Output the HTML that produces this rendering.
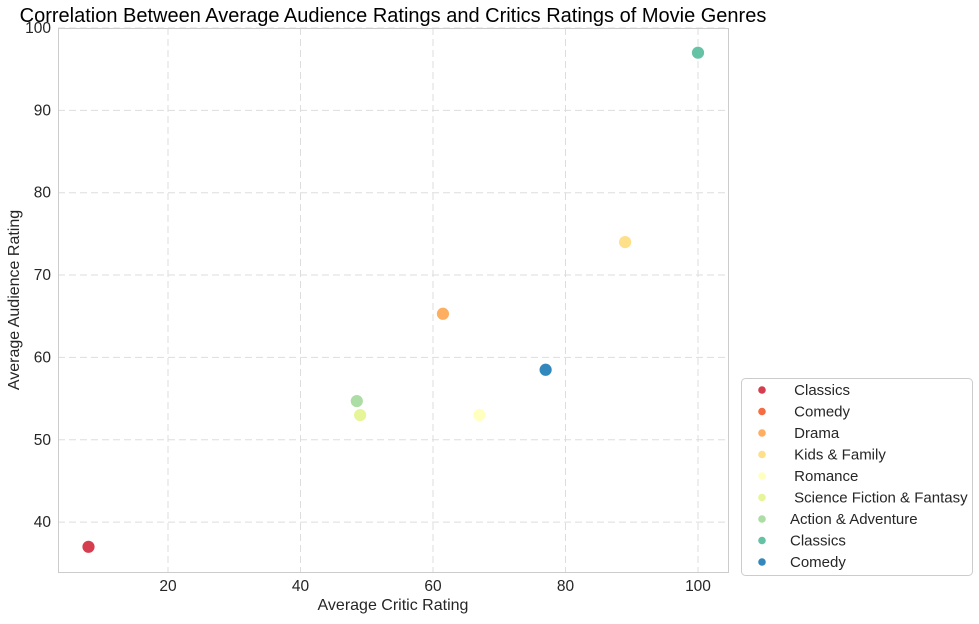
<!DOCTYPE html>
<html><head><meta charset="utf-8"><style>
body{margin:0;background:#fff;font-family:"Liberation Sans",sans-serif;}
svg text{font-family:"Liberation Sans",sans-serif;fill:#262626;}
</style></head><body>
<svg id="chart" width="979" height="619">
<text x="393" y="22" text-anchor="middle" font-size="20" style="fill:#000">Correlation Between Average Audience Ratings and Critics Ratings of Movie Genres</text>
<g id="grid"></g>
<rect x="58.5" y="28.5" width="670" height="544" fill="none" stroke="#ccc"/>
<g id="ticks"></g>
<g id="points"></g>
<text x="393" y="610" text-anchor="middle" font-size="16">Average Critic Rating</text>
<text transform="translate(19,300) rotate(-90)" text-anchor="middle" font-size="16">Average Audience Rating</text>
<g id="legend"></g>
</svg>
<script>
const labels=["\u00a0Classics","\u00a0Comedy","\u00a0Drama","\u00a0Kids & Family","\u00a0Romance","\u00a0Science Fiction & Fantasy","Action & Adventure","Classics","Comedy"];
const critic=[8,8,61.5,89,67,49,48.5,100,77];
const audience=[37,37,65.3,74,53,53,54.7,97,58.5];
const colors=["#d53e4f","#f46d43","#fdae61","#fee08b","#ffffbf","#e6f598","#abdda4","#66c2a5","#3288bd"];
const xTicks=[20,40,60,80,100];
const yTicks=[40,50,60,70,80,90,100];
const NS="http://www.w3.org/2000/svg";
const X=v=>35.5+v*6.625, Y=v=>28+(100-v)*8.235;
function mk(t,a,p){const e=document.createElementNS(NS,t);for(const k in a)e.setAttribute(k,a[k]);p.appendChild(e);return e;}
const grid=document.getElementById('grid'),ticks=document.getElementById('ticks');
xTicks.forEach(v=>{
 const l=mk('line',{x1:X(v),x2:X(v),y1:28,y2:572,stroke:'#ddd','stroke-dasharray':'7,4'},grid);
 
 
 const t=mk('text',{x:X(v),y:591,'text-anchor':'middle','font-size':15.5},ticks);t.textContent=v;
 
 
});
yTicks.forEach(v=>{
 const l=mk('line',{x1:58,x2:728,y1:Y(v),y2:Y(v),stroke:'#ddd','stroke-dasharray':'7,4'},grid);
 
 
 const t=mk('text',{x:51,y:Y(v)+5,'text-anchor':'end','font-size':15.5},ticks);t.textContent=v;
 
 
});
const pts=document.getElementById('points');
[1,0,2,3,4,5,6,7,8].forEach(i=>{
 const c=mk('circle',{cx:X(critic[i]),cy:Y(audience[i]),r:6.5,fill:colors[i],stroke:'#fff','stroke-width':0.8},pts);
 
 
});
const lg=document.getElementById('legend');
const box=mk('rect',{x:741.5,y:378.5,width:231,height:197,rx:4,fill:'#fff',stroke:'#ccc'},lg);


labels.forEach((s,i)=>{
 const y=390+i*21.5;
 const c=mk('circle',{cx:762,cy:y,r:3.8,fill:colors[i]},lg);
 
 
 const t=mk('text',{x:790,y:y+5,'font-size':15},lg);t.textContent=s;
 
 
});
</script>
</body></html>
